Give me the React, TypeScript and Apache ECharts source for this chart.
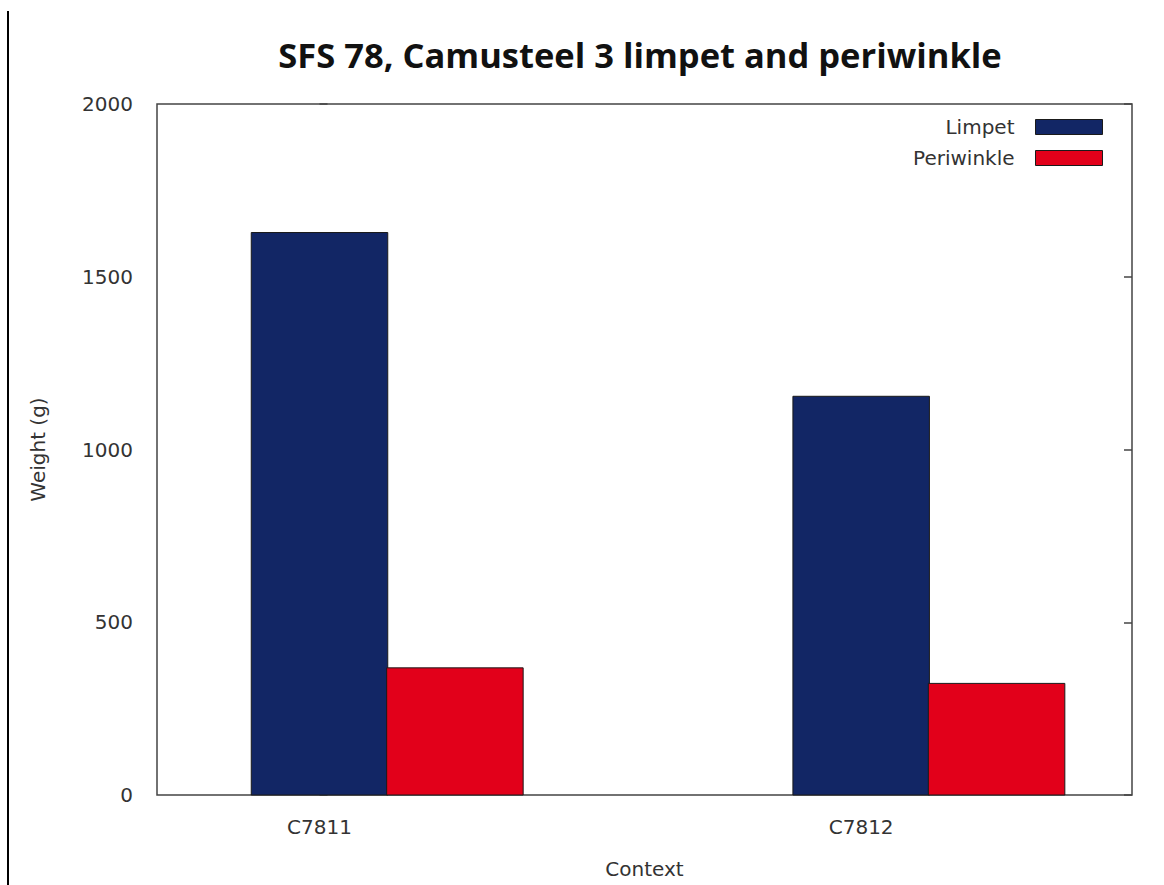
import React, { useEffect, useRef } from "react";
import * as echarts from "echarts";

const categories = ["C7811", "C7812"];
const seriesNames = ["Limpet", "Periwinkle"];
const limpetValues = [1628, 1154];
const periwinkleValues = [368, 323];
const categoryPositions = [0, 1];

const BAR_W = 0.252;
const OFFSETS = [0, 0.25];
const COLORS = ["#122665", "#e2001a"];

export default function App() {
  const ref = useRef<HTMLDivElement>(null);
  useEffect(() => {
    if (!ref.current) return;
    const chart = echarts.init(ref.current, null, { renderer: "svg" });
    const valuesList = [limpetValues, periwinkleValues];
    const font = "'DejaVu Sans', sans-serif";
    const series = seriesNames.map((name, si) => ({
      name,
      type: "custom",
      xAxisIndex: 0,
      yAxisIndex: 0,
      itemStyle: { color: COLORS[si], borderColor: "#1a1a1a", borderWidth: 1 },
      data: valuesList[si].map((v, ci) => [categoryPositions[ci] + OFFSETS[si], v]),
      renderItem: (params: any, api: any) => {
        const x = api.value(0);
        const y = api.value(1);
        const p0 = api.coord([x - BAR_W / 2, y]);
        const p1 = api.coord([x + BAR_W / 2, 0]);
        return {
          type: "rect",
          shape: { x: p0[0], y: p0[1], width: p1[0] - p0[0], height: p1[1] - p0[1] },
          style: { fill: COLORS[si], stroke: "#1a1a1a", lineWidth: 1 },
        };
      },
    }));
    chart.setOption({
      animation: false,
      backgroundColor: "#ffffff",
      title: {
        text: "SFS 78, Camusteel 3 limpet and periwinkle",
        left: 640,
        textAlign: "center",
        top: 37,
        padding: 0,
        textStyle: { fontFamily: "Open Sans", fontWeight: "bold", fontSize: 34.5, color: "#111" },
      },
      legend: {
        orient: "vertical",
        right: 61,
        top: 117,
        padding: 0,
        align: "right",
        itemWidth: 67,
        itemHeight: 15,
        itemGap: 11,
        icon: "rect",
        itemStyle: { borderColor: "#1a1a1a", borderWidth: 1 },
        textStyle: { fontFamily: font, fontSize: 20, color: "#333", lineHeight: 20, padding: [0, 16, 0, 0] },
        data: seriesNames,
      },
      graphic: [
        {
          type: "line",
          shape: { x1: 8, y1: 11, x2: 8, y2: 885 },
          style: { stroke: "#000", lineWidth: 2 },
        },
      ],
      grid: {
        left: 157,
        right: 32,
        top: 104,
        bottom: 90,
        show: true,
        borderColor: "#444",
        borderWidth: 1.5,
      },
      xAxis: {
        type: "value",
        min: -0.3,
        max: 1.5,
        name: "Context",
        nameLocation: "middle",
        nameGap: 64,
        nameTextStyle: { fontFamily: font, fontSize: 20, color: "#333" },
        axisLine: { show: false },
        axisTick: { show: false, customValues: categoryPositions },
        minorTick: { show: false },
        splitLine: { show: false },
        axisPointer: { show: false },
        axisLabel: {
          customValues: categoryPositions,
          formatter: (v: number) => categories[Math.round(v)] ?? "",
          fontFamily: font,
          fontSize: 20,
          color: "#333",
          margin: 22,
        },
      },
      yAxis: [
        {
          type: "value",
          min: 0,
          max: 2000,
          interval: 500,
          name: "Weight (g)",
          nameLocation: "middle",
          nameGap: 109,
          nameTextStyle: { fontFamily: font, fontSize: 20, color: "#333" },
          axisLine: { show: false },
          axisTick: { show: true, inside: true, length: 8, lineStyle: { color: "#444", width: 1.5 } },
          splitLine: { show: false },
          axisLabel: {
            formatter: (v: number) => String(v),
            fontFamily: font,
            fontSize: 20,
            color: "#333",
            margin: 24,
          },
        },
        {
          type: "value",
          position: "right",
          min: 0,
          max: 2000,
          interval: 500,
          axisLine: { show: false },
          axisTick: { show: true, inside: true, length: 8, lineStyle: { color: "#444", width: 1.5 } },
          splitLine: { show: false },
          axisLabel: { show: false },
        },
      ],
      series,
    });
    return () => chart.dispose();
  }, []);
  return (
    <div
      ref={ref}
      style={{ position: "fixed", left: 0, top: 0, width: 1164, height: 885 }}
    />
  );
}
